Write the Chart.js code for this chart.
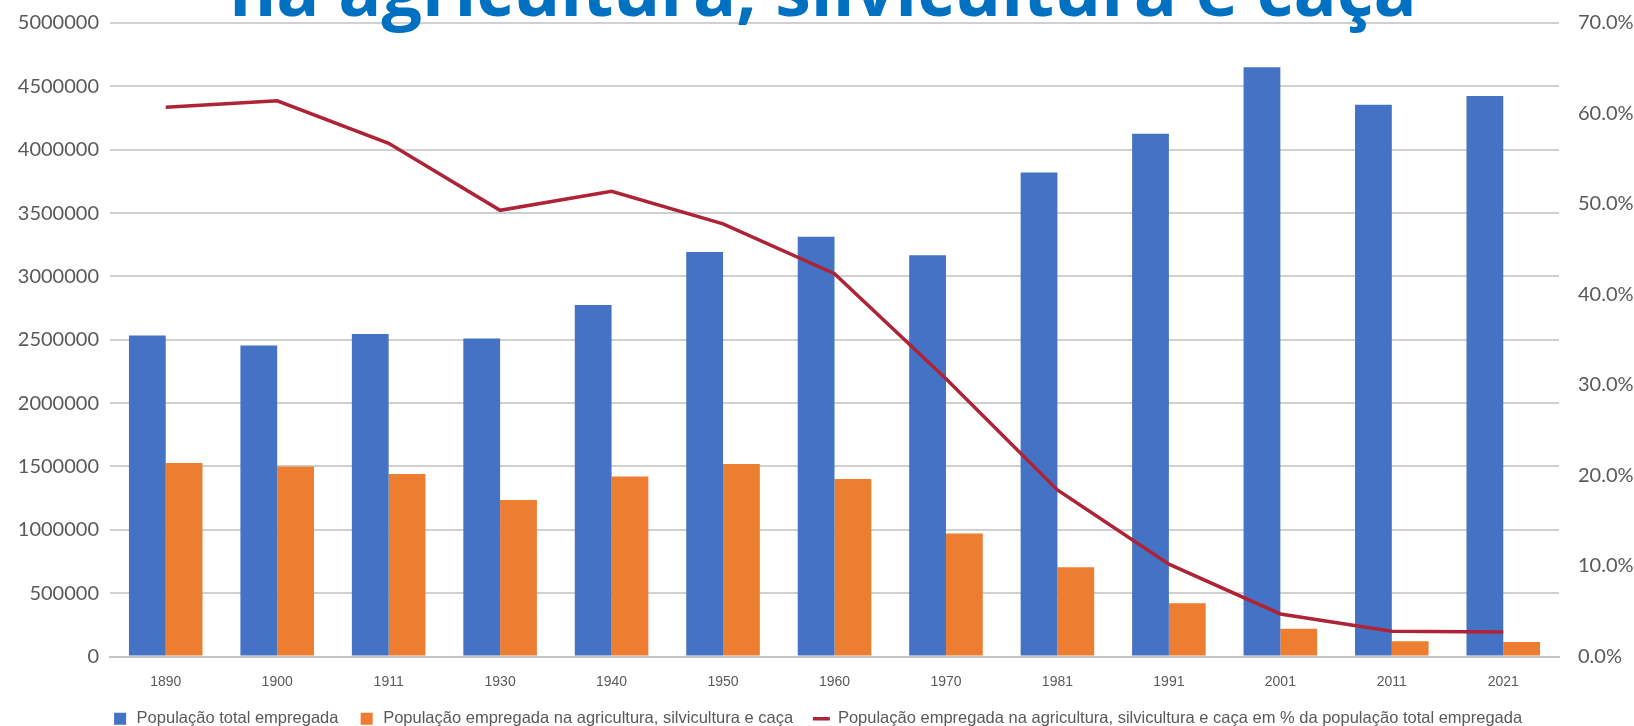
<!DOCTYPE html>
<html>
<head>
<meta charset="utf-8">
<script src="https://cdn.jsdelivr.net/npm/chart.js@4.4.1/dist/chart.umd.min.js"></script>
<style>
  html, body { margin: 0; padding: 0; background: #fff; }
  #wrap { width: 1634px; height: 726px; }
</style>
</head>
<body>
<div id="wrap"><canvas id="myChart" width="1634" height="726"></canvas></div>
<script>
// values
const categories = ['1890', '1900', '1911', '1930', '1940', '1950', '1960', '1970', '1981', '1991', '2001', '2011', '2021'];
const totalEmployed = [2533000, 2454000, 2545000, 2510000, 2775000, 3192000, 3313000, 3166000, 3821000, 4126000, 4650000, 4355000, 4423000];
const agriEmployed = [1527000, 1500000, 1440000, 1235000, 1420000, 1520000, 1400000, 970000, 705000, 420000, 220000, 120000, 115000];
const agriShare = [60.7, 61.4, 56.7, 49.3, 51.4, 47.8, 42.3, 30.7, 18.4, 10.2, 4.7, 2.8, 2.7];

const titleText = 'na agricultura, silvicultura e caça';
const grey = '#595959';

// title sits partly cut off at the top of the picture
const clippedTitle = {
    id: 'clippedTitle',
    afterDraw(chart) {
        const ctx = chart.ctx;
        ctx.save();
        let size = 64;
        ctx.font = 'bold ' + size + 'px "Open Sans"';
        const w = ctx.measureText(titleText).width;
        size = size * 1188 / w;
        ctx.font = 'bold ' + size + 'px "Open Sans"';
        ctx.fillStyle = '#0070C0';
        ctx.textAlign = 'center';
        ctx.textBaseline = 'alphabetic';
        ctx.fillText(titleText, 823, 16);
        ctx.restore();
    }
};

const ctx = document.getElementById('myChart').getContext('2d');
const myChart = new Chart(ctx, {
    type: 'bar',
    data: {
        labels: categories,
        datasets: [{
            label: 'População total empregada',
            data: totalEmployed,
            backgroundColor: '#4472C4',
            yAxisID: 'y',
            order: 2,
            pointStyle: 'rect',
            categoryPercentage: 0.66,
            barPercentage: 1.0
        }, {
            label: 'População empregada na agricultura, silvicultura e caça',
            data: agriEmployed,
            backgroundColor: '#ED7D31',
            yAxisID: 'y',
            order: 2,
            pointStyle: 'rect',
            categoryPercentage: 0.66,
            barPercentage: 1.0
        }, {
            type: 'line',
            label: 'População empregada na agricultura, silvicultura e caça em % da população total empregada',
            data: agriShare,
            borderColor: '#AE2436',
            backgroundColor: '#AE2436',
            borderWidth: 3.5,
            pointRadius: 0,
            pointStyle: 'line',
            tension: 0,
            yAxisID: 'y1',
            order: 1
        }]
    },
    options: {
        responsive: false,
        animation: false,
        layout: { padding: { top: 22, left: 0, right: 0, bottom: -11 } },
        plugins: {
            legend: {
                position: 'bottom',
                labels: {
                    usePointStyle: true,
                    boxHeight: 12,
                    color: grey,
                    font: { family: '"Liberation Sans Narrow", "Liberation Sans"', size: 16.5 },
                    padding: 20,
                    sort: (a, b) => a.datasetIndex - b.datasetIndex
                }
            },
            tooltip: { enabled: false }
        },
        scales: {
            x: {
                grid: { display: false },
                border: { color: '#c4c4c4', width: 2 },
                ticks: {
                    color: grey,
                    font: { family: '"Liberation Sans Narrow", "Liberation Sans"', size: 14 },
                    padding: 9
                },
                afterFit: s => { s.height = 34; }
            },
            y: {
                position: 'left',
                min: 0,
                max: 5000000,
                ticks: {
                    stepSize: 500000,
                    color: grey,
                    padding: 11,
                    font: { family: 'Lato', size: 20 },
                    callback: v => String(v)
                },
                grid: { color: '#d0d0d0', lineWidth: 2, drawTicks: false },
                border: { display: false },
                afterFit: s => { s.width = 110; }
            },
            y1: {
                position: 'right',
                min: 0,
                max: 70,
                ticks: {
                    stepSize: 10,
                    color: grey,
                    padding: 11,
                    font: { family: 'Lato', size: 20 },
                    callback: v => v.toFixed(1) + '%'
                },
                grid: { display: false },
                border: { display: false },
                afterFit: s => { s.width = 75; }
            }
        }
    },
    plugins: [clippedTitle]
});
</script>
</body>
</html>
